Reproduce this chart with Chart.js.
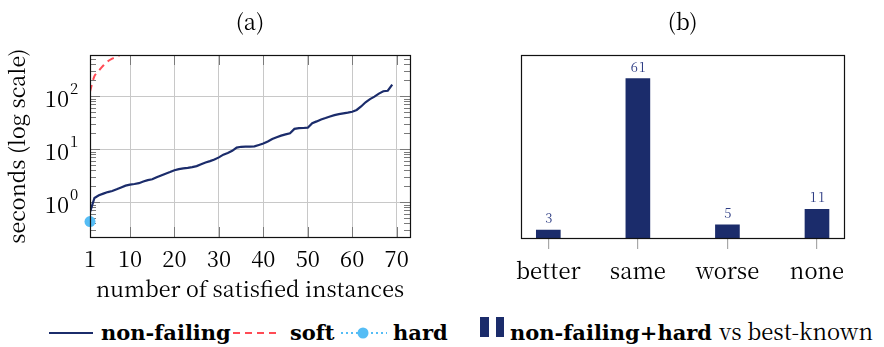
<!DOCTYPE html>
<html>
<head>
<meta charset="utf-8">
<script src="https://cdn.jsdelivr.net/npm/chart.js@4.4.1/dist/chart.umd.min.js"></script>
<style>
  html, body { margin: 0; padding: 0; background: #fff; }
  body { width: 884px; height: 347px; position: relative; overflow: hidden; }
  #runtime { position: absolute; left: 0; top: 0; }
  #outcomes { position: absolute; left: 440px; top: 0; }
  #legend { position: absolute; left: 0; top: 317px; width: 884px; height: 30px; }
  #legend svg { position: absolute; top: 0; }
  #legend span.item {
    position: absolute; top: 4px; line-height: 24px; white-space: nowrap;
    font-family: "DejaVu Serif", serif; font-weight: bold; font-size: 21px; color: #000;
  }
  #legend span.plain {
    font-family: "Noto Serif CJK SC", "Liberation Serif", serif; font-weight: normal; font-size: 22px; line-height: 0;
  }
</style>
</head>
<body>
<canvas id="runtime" width="430" height="310"></canvas>
<canvas id="outcomes" width="444" height="310"></canvas>
<div id="legend">
  <svg style="left:49px" width="46" height="32"><line x1="0" y1="16" x2="44" y2="16" stroke="#1b2c6b" stroke-width="2"/></svg>
  <span class="item" style="left:101px">non-failing</span>
  <svg style="left:233px" width="46" height="32"><line x1="0" y1="16" x2="46" y2="16" stroke="#ff4b55" stroke-width="2" stroke-dasharray="7 5"/></svg>
  <span class="item" style="left:290px">soft</span>
  <svg style="left:341px" width="47" height="32"><line x1="0" y1="16" x2="46" y2="16" stroke="#55bdf5" stroke-width="2" stroke-dasharray="2 3"/><circle cx="22" cy="16" r="5.5" fill="#55bdf5"/></svg>
  <span class="item" style="left:393px">hard</span>
  <svg style="left:480px" width="26" height="32"><rect x="0" y="0" width="9" height="20" fill="#1b2c6b"/><rect x="16" y="0" width="8" height="20" fill="#1b2c6b"/></svg>
  <span class="item" style="left:510px">non-failing+hard <span class="plain">vs best-known</span></span>
</div>
<script>
// seconds needed per instance, sorted, for each configuration
const nonFailingSeconds = [
  0.65, 1.2, 1.35, 1.45, 1.55, 1.62, 1.75, 1.9, 2.05, 2.14,
  2.2, 2.28, 2.45, 2.6, 2.7, 2.95, 3.2, 3.45, 3.7, 4.0,
  4.2, 4.35, 4.45, 4.6, 4.8, 5.2, 5.6, 5.95, 6.4, 7.0,
  7.9, 8.5, 9.3, 10.7, 11.1, 11.2, 11.2, 11.3, 12.0, 12.8,
  14.0, 15.6, 16.8, 18.0, 19.0, 20.0, 24.2, 25.0, 25.1, 25.5,
  31.0, 33.5, 36.5, 38.8, 41.5, 44.0, 46.0, 47.5, 49.0, 51.0,
  55.0, 64.0, 77.0, 88.0, 98.0, 112.0, 124.0, 127.0, 165.0
];
const softSeconds = [122, 240, 305, 380, 455, 510, 560, 610];
const hardSeconds = [0.43];

const xTickValues = [1, 10, 20, 30, 40, 50, 60, 70];
const yDecades = [1, 10, 100];

// comparison against best-known solutions
const outcomeLabels = ['better', 'same', 'worse', 'none'];
const outcomeCounts = [3, 61, 5, 11];

const NAVY = '#1b2c6b';
const serif = 'Noto Serif CJK SC';

const toPoints = arr => arr.map((v, i) => ({ x: i + 1, y: v }));

// black frame around the plot area
const frame = {
  id: 'frame',
  afterDraw(chart) {
    const { ctx, chartArea: a } = chart;
    ctx.save();
    ctx.strokeStyle = '#111';
    ctx.lineWidth = 1.2;
    ctx.strokeRect(Math.round(a.left) + 0.5, Math.round(a.top) + 0.5,
      Math.round(a.right - a.left), Math.round(a.bottom - a.top));
    ctx.restore();
  }
};

// pgfplots-style tick marks pointing into the plot
const innerTicks = {
  id: 'innerTicks',
  beforeDatasetsDraw(chart) {
    const { ctx, chartArea: { left, right, top, bottom }, scales: { x, y } } = chart;
    ctx.save();
    ctx.strokeStyle = '#7a7a7a';
    ctx.lineWidth = 1;
    ctx.beginPath();
    xTickValues.forEach(v => {
      if (v === 1) return;
      const px = Math.round(x.getPixelForValue(v)) + 0.5;
      ctx.moveTo(px, bottom); ctx.lineTo(px, bottom - 10);
      ctx.moveTo(px, top); ctx.lineTo(px, top + 10);
    });
    for (let e = -1; e <= 2; e++) {
      for (let m = 1; m <= 9; m++) {
        const v = m * Math.pow(10, e);
        if (v < y.min || v > y.max) continue;
        const len = m === 1 ? 10 : 6;
        const py = Math.round(y.getPixelForValue(v)) + 0.5;
        ctx.moveTo(left, py); ctx.lineTo(left + len, py);
        ctx.moveTo(right, py); ctx.lineTo(right - len, py);
      }
    }
    ctx.stroke();
    ctx.restore();
  }
};

// 10^k labels on the log axis
const decadeLabels = {
  id: 'decadeLabels',
  afterDraw(chart) {
    const { ctx, scales: { y } } = chart;
    ctx.save();
    ctx.fillStyle = '#000';
    ctx.textBaseline = 'alphabetic';
    yDecades.forEach(v => {
      const py = y.getPixelForValue(v);
      ctx.font = `22px "${serif}"`;
      ctx.textAlign = 'right';
      ctx.fillText('10', 69, py + 10.5);
      ctx.font = `15px "${serif}"`;
      ctx.textAlign = 'left';
      ctx.fillText(String(Math.round(Math.log10(v))), 70, py - 2);
    });
    ctx.restore();
  }
};

// counts printed above the bars
const barValues = {
  id: 'barValues',
  afterDatasetsDraw(chart) {
    const { ctx } = chart;
    const meta = chart.getDatasetMeta(0);
    ctx.save();
    ctx.font = `13px "${serif}"`;
    ctx.letterSpacing = '1px';
    ctx.fillStyle = '#2e3d84';
    ctx.textAlign = 'center';
    ctx.textBaseline = 'alphabetic';
    meta.data.forEach((bar, i) => ctx.fillText(String(outcomeCounts[i]), bar.x + 1, bar.y - 7));
    ctx.restore();
  }
};

const titleOpts = text => ({
  display: true, text, fullSize: false, color: '#000',
  font: { family: serif, size: 22, weight: 'normal' },
  padding: { top: 8, bottom: 20.6 }
});

new Chart(document.getElementById('runtime'), {
  type: 'line',
  data: {
    datasets: [
      {
        label: 'non-failing', data: toPoints(nonFailingSeconds),
        borderColor: NAVY, borderWidth: 2.2, pointRadius: 0, tension: 0
      },
      {
        label: 'soft', data: toPoints(softSeconds),
        borderColor: '#ff4b55', borderWidth: 2, borderDash: [7, 5], pointRadius: 0, tension: 0.3
      },
      {
        label: 'hard', data: toPoints(hardSeconds),
        borderColor: '#55bdf5', backgroundColor: '#55bdf5', borderDash: [2, 3],
        pointRadius: 5.5, pointBorderWidth: 0, clip: false
      }
    ]
  },
  options: {
    responsive: false,
    animation: false,
    layout: { padding: { left: 0, right: 20, top: 0, bottom: 0 } },
    plugins: {
      legend: { display: false },
      tooltip: { enabled: false },
      title: titleOpts('(a)')
    },
    scales: {
      x: {
        type: 'linear', min: 1, max: 73,
        afterBuildTicks: s => { s.ticks = xTickValues.map(v => ({ value: v })); },
        afterFit: s => { s.height = 73; },
        border: { display: false },
        grid: { color: c => (c.tick && c.tick.value === 1 ? 'rgba(0,0,0,0)' : '#c8c8c8'), drawTicks: false },
        ticks: { color: '#000', font: { family: serif, size: 22 }, padding: 8, maxRotation: 0, autoSkip: false, callback: v => v },
        title: {
          display: true, text: 'number of satisfied instances', color: '#000',
          font: { family: serif, size: 21.5 }, padding: { top: 0, bottom: 8 }
        }
      },
      y: {
        type: 'logarithmic', min: 0.22, max: 600,
        afterBuildTicks: s => { s.ticks = yDecades.map(v => ({ value: v })); },
        afterFit: s => { s.width = 90; },
        border: { display: false },
        grid: { color: '#c8c8c8', drawTicks: false },
        ticks: { display: false },
        title: {
          display: true, text: 'seconds (log scale)', color: '#000',
          font: { family: serif, size: 21.5 }, padding: { top: 4, bottom: 0 }
        }
      }
    }
  },
  plugins: [innerTicks, frame, decadeLabels]
});

new Chart(document.getElementById('outcomes'), {
  type: 'bar',
  data: {
    datasets: [{
      label: 'non-failing+hard vs best-known',
      data: outcomeCounts.map((c, i) => ({ x: i, y: c })),
      backgroundColor: NAVY, borderWidth: 0, barThickness: 24
    }]
  },
  options: {
    responsive: false,
    animation: false,
    layout: { padding: { left: 81, right: 39.7, top: 0, bottom: 0 } },
    plugins: {
      legend: { display: false },
      tooltip: { enabled: false },
      title: titleOpts('(b)')
    },
    scales: {
      x: {
        type: 'linear', min: -0.305, max: 3.305, offset: false,
        afterBuildTicks: s => { s.ticks = outcomeLabels.map((_, i) => ({ value: i })); },
        afterFit: s => { s.height = 72; },
        border: { display: false },
        grid: { offset: false, drawOnChartArea: false, drawTicks: true, tickLength: 11, color: '#a8a8a8', lineWidth: 1.2 },
        ticks: { color: '#000', font: { family: serif, size: 22 }, padding: 8, maxRotation: 0, autoSkip: false, callback: v => outcomeLabels[v] }
      },
      y: { display: false, min: 0, max: 70 }
    }
  },
  plugins: [frame, barValues]
});
</script>
</body>
</html>
